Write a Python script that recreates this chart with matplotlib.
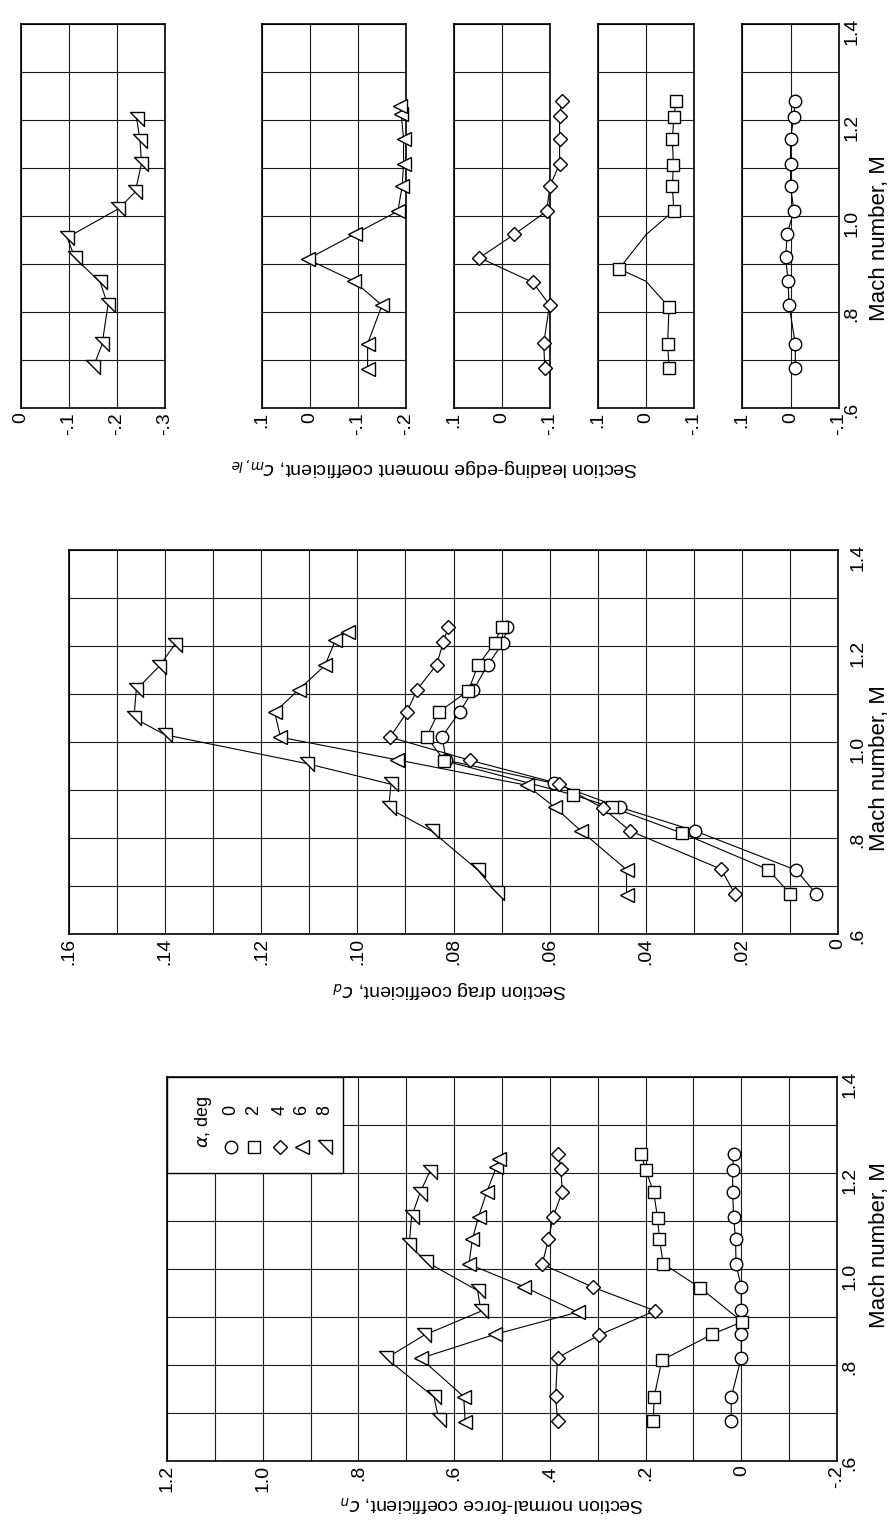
import numpy as np
import matplotlib.pyplot as plt
from matplotlib.path import Path
from matplotlib.patches import Rectangle

plt.rcParams['font.family'] = ['Liberation Sans', 'DejaVu Sans']
plt.rcParams['mathtext.fontset'] = 'dejavusans'

# ---- data (Mach number per angle of attack) ----
alphas = [0, 2, 4, 6, 8]

mach_a0 = [0.683, 0.733, 0.815, 0.864, 0.914, 0.962, 1.011, 1.063, 1.108, 1.160, 1.207, 1.240]
cn_a0 = [0.021, 0.021, 0.000, 0.000, 0.000, 0.000, 0.011, 0.012, 0.016, 0.018, 0.018, 0.016]
cd_a0 = [0.0045, 0.0087, 0.0298, 0.0454, 0.0591, 0.0815, 0.0824, 0.0787, 0.0759, 0.0729, 0.0697, 0.0688]
cm_a0 = [-0.010, -0.010, 0.003, 0.005, 0.010, 0.007, -0.007, 0.000, 0.000, 0.000, -0.007, -0.009]

mach_a2 = [0.684, 0.734, 0.810, 0.864, 0.890, 0.961, 1.011, 1.062, 1.107, 1.160, 1.207, 1.240]
cn_a2 = [0.184, 0.182, 0.166, 0.061, -0.002, 0.086, 0.163, 0.171, 0.175, 0.183, 0.200, 0.209]
cd_a2 = [0.0100, 0.0145, 0.0324, 0.0471, 0.0551, 0.0819, 0.0856, 0.0831, 0.0769, 0.0749, 0.0714, 0.0700]
cm_a2 = [-0.048, -0.045, -0.048, 0.000, 0.056, 0.000, -0.058, -0.055, -0.057, -0.055, -0.058, -0.063]
cm_a2_shown = [0, 1, 2, 4, 6, 7, 8, 9, 10, 11]

mach_a4 = [0.684, 0.735, 0.815, 0.862, 0.913, 0.962, 1.010, 1.062, 1.109, 1.161, 1.209, 1.239]
cn_a4 = [0.384, 0.388, 0.384, 0.298, 0.180, 0.310, 0.416, 0.403, 0.393, 0.374, 0.377, 0.382]
cd_a4 = [0.0215, 0.0243, 0.0433, 0.0489, 0.0580, 0.0766, 0.0932, 0.0897, 0.0876, 0.0835, 0.0821, 0.0811]
cm_a4 = [-0.089, -0.087, -0.099, -0.064, 0.047, -0.026, -0.093, -0.100, -0.120, -0.120, -0.120, -0.125]

mach_a6 = [0.682, 0.734, 0.814, 0.864, 0.910, 0.963, 1.010, 1.062, 1.109, 1.160, 1.212, 1.230]
cn_a6 = [0.577, 0.580, 0.670, 0.514, 0.342, 0.454, 0.569, 0.562, 0.549, 0.532, 0.512, 0.506]
cd_a6 = [0.0440, 0.0440, 0.0534, 0.0589, 0.0648, 0.0918, 0.1160, 0.1172, 0.1122, 0.1067, 0.1046, 0.1020]
cm_a6 = [-0.120, -0.120, -0.150, -0.092, 0.005, -0.094, -0.183, -0.192, -0.195, -0.195, -0.190, -0.187]

mach_a8 = [0.686, 0.733, 0.814, 0.862, 0.912, 0.955, 1.015, 1.050, 1.109, 1.157, 1.203]
cn_a8 = [0.632, 0.642, 0.742, 0.663, 0.544, 0.551, 0.658, 0.694, 0.689, 0.672, 0.651]
cd_a8 = [0.0710, 0.0749, 0.0845, 0.0935, 0.0930, 0.1105, 0.1400, 0.1465, 0.1460, 0.1413, 0.1380]
cm_a8 = [-0.151, -0.169, -0.181, -0.165, -0.113, -0.096, -0.203, -0.238, -0.251, -0.248, -0.241]

mach_ticks = [0.6, 0.7, 0.8, 0.9, 1.0, 1.1, 1.2, 1.3, 1.4]
mach_labels = ['.6', '', '.8', '', '1.0', '', '1.2', '', '1.4']

cn_ticks = [1.2, 1.1, 1.0, 0.9, 0.8, 0.7, 0.6, 0.5, 0.4, 0.3, 0.2, 0.1, 0.0, -0.1, -0.2]
cn_labels = ['1.2', '', '1.0', '', '.8', '', '.6', '', '.4', '', '.2', '', '0', '', '-.2']

cd_ticks = [0.16, 0.15, 0.14, 0.13, 0.12, 0.11, 0.10, 0.09, 0.08, 0.07, 0.06, 0.05,
            0.04, 0.03, 0.02, 0.01, 0.0]
cd_labels = ['.16', '', '.14', '', '.12', '', '.10', '', '.08', '', '.06', '', '.04', '',
             '.02', '', '0']

# right-angle triangle used for alpha = 8
flag_tri = Path([(-1, 1), (1, 1), (1, -1), (-1, 1)],
                [Path.MOVETO, Path.LINETO, Path.LINETO, Path.CLOSEPOLY])
markers = {0: ('o', 9), 2: ('s', 8.5), 4: ('D', 7), 6: ('<', 10), 8: (flag_tri, 10)}

W, H = 889, 1524
fig = plt.figure(figsize=(W / 100, H / 100), dpi=100)


def px_axes(left, top, right, bottom):
    return fig.add_axes([left / W, 1 - bottom / H, (right - left) / W, (bottom - top) / H])


def style_axes(ax, xticks, xlabels, show_mach, ypad=3):
    ax.set_xlim(xticks[0], xticks[-1])
    ax.set_ylim(0.6, 1.4)
    ax.set_xticks(xticks)
    ax.set_xticklabels(xlabels)
    ax.set_yticks(mach_ticks)
    ax.yaxis.tick_right()
    if show_mach:
        ax.set_yticklabels(mach_labels)
    else:
        ax.set_yticklabels([])
    ax.tick_params(length=0, labelsize=14, pad=3)
    ax.tick_params(axis='x', labelrotation=90)
    ax.tick_params(axis='y', labelrotation=90, pad=ypad)
    ax.grid(True, color='#1a1a1a', lw=0.8)
    ax.set_axisbelow(True)
    for s in ax.spines.values():
        s.set_linewidth(1.2)


def curve(ax, m, v, a, shown=None):
    mk, ms = markers[a]
    ax.plot(v, m, '-', color='k', lw=0.8, zorder=3, clip_on=False)
    ax.plot(v, m, ls='none', marker=mk, ms=ms, mfc='white', mec='k', mew=1.0,
            markevery=shown, zorder=4, clip_on=False)


# ---- normal force ----
ax_cn = px_axes(167, 1077, 837, 1461)
style_axes(ax_cn, cn_ticks, cn_labels, True)
curve(ax_cn, mach_a0, cn_a0, 0)
curve(ax_cn, mach_a2, cn_a2, 2)
curve(ax_cn, mach_a4, cn_a4, 4)
curve(ax_cn, mach_a6, cn_a6, 6)
curve(ax_cn, mach_a8, cn_a8, 8)

# legend (rotated layout like the page)
ax_cn.add_patch(Rectangle((0, 0.75), 0.2627, 0.25, transform=ax_cn.transAxes,
                          facecolor='white', edgecolor='k', lw=1.0, zorder=5))
ax_cn.text(0.054, 0.885, r'$\alpha$, deg', transform=ax_cn.transAxes, rotation=90,
           ha='center', va='center', fontsize=13, zorder=6)
leg_x = [0.0955, 0.130, 0.169, 0.2015, 0.236]
for a, lx in zip(alphas, leg_x):
    mk, ms = markers[a]
    ax_cn.plot([lx], [0.818], ls='none', marker=mk, ms=ms, mfc='white', mec='k',
               mew=1.0, transform=ax_cn.transAxes, zorder=6, clip_on=False)
    ax_cn.text(lx, 0.914, str(a), transform=ax_cn.transAxes, rotation=90,
               ha='center', va='center', fontsize=13, zorder=6)

# ---- drag ----
ax_cd = px_axes(69, 550, 838, 934)
style_axes(ax_cd, cd_ticks, cd_labels, True, ypad=8)
curve(ax_cd, mach_a0, cd_a0, 0)
curve(ax_cd, mach_a2, cd_a2, 2)
curve(ax_cd, mach_a4, cd_a4, 4)
curve(ax_cd, mach_a6, cd_a6, 6)
curve(ax_cd, mach_a8, cd_a8, 8)

# ---- leading-edge moment: one strip per alpha ----
cm_strips = [
    (8, [0.0, -0.1, -0.2, -0.3], ['0', '-.1', '-.2', '-.3'], 21, 165, mach_a8, cm_a8, None),
    (6, [0.1, 0.0, -0.1, -0.2], ['.1', '0', '-.1', '-.2'], 262, 406, mach_a6, cm_a6, None),
    (4, [0.1, 0.0, -0.1], ['.1', '0', '-.1'], 454, 550, mach_a4, cm_a4, None),
    (2, [0.1, 0.0, -0.1], ['.1', '0', '-.1'], 598, 694, mach_a2, cm_a2, cm_a2_shown),
    (0, [0.1, 0.0, -0.1], ['.1', '0', '-.1'], 742, 839, mach_a0, cm_a0, None),
]
for a, ticks, labels, x0, x1, m, v, shown in cm_strips:
    ax = px_axes(x0, 24, x1, 408)
    style_axes(ax, ticks, labels, a == 0)
    curve(ax, m, v, a, shown)

# ---- axis titles ----
fig.text(492 / W, 1 - 1503 / H, 'Section normal-force coefficient, $c_n$',
         rotation=180, ha='center', va='center', fontsize=14)
fig.text(450 / W, 1 - 990 / H, 'Section drag coefficient, $c_d$',
         rotation=180, ha='center', va='center', fontsize=14)
fig.text(434 / W, 1 - 466 / H, 'Section leading-edge moment coefficient, $c_{m,le}$',
         rotation=180, ha='center', va='center', fontsize=14)
for yc in [1245, 768, 238]:
    fig.text(879 / W, 1 - yc / H, 'Mach number, M', rotation=90,
             ha='center', va='center', fontsize=16)

plt.savefig('out.png', dpi=100)
